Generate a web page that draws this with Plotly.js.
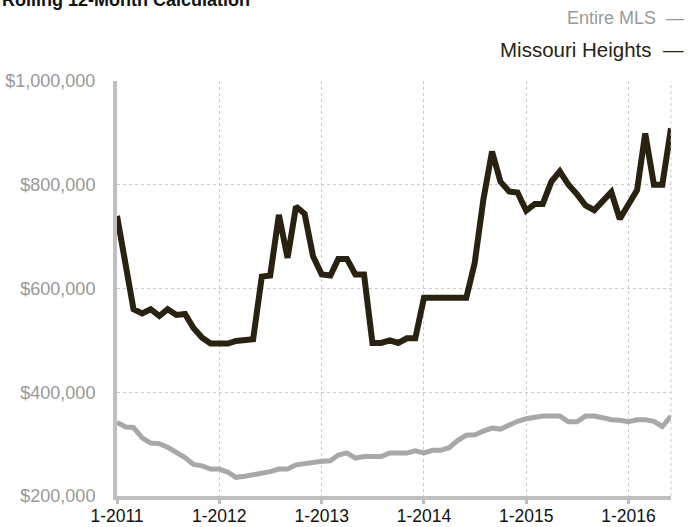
<!DOCTYPE html>
<html>
<head>
<meta charset="utf-8">
<script src="https://cdn.plot.ly/plotly-3.0.1.min.js"></script>
<style>html,body{margin:0;padding:0;background:#fff;}#chart{width:688px;height:527px;}</style>
</head>
<body>
<div id="chart"></div>
<script>
// Months: Jan 2011 .. Jun 2016
var months = [];
for (var y = 2011; y <= 2016; y++) {
  for (var m = 1; m <= 12; m++) {
    if (y === 2016 && m > 6) break;
    months.push(y + '-' + (m < 10 ? '0' + m : m) + '-01');
  }
}

var missouriHeights = [740000, 650000, 560000, 552000, 560000, 547000, 560000, 549000, 551000, 524000, 505000, 494000,
  494000, 494000, 499000, 502000, 502000, 623000, 625000, 742000, 659000, 758000, 744000, 662000,
  627000, 625000, 657000, 657000, 627000, 627000, 495000, 495000, 500000, 495000, 504000, 504000,
  582000, 582000, 582000, 582000, 582000, 582000, 649000, 771000, 864000, 806000, 787000, 785000,
  750000, 763000, 763000, 806000, 826000, 800000, 782000, 760000, 751000, 768000, 786000, 734000,
  765000, 790000, 899000, 800000, 800000, 909000];

var entireMLS = [342000, 333000, 332000, 312000, 302000, 301000, 294000, 285000, 274000, 261000, 258000, 252000,
  252000, 246000, 236000, 238000, 241000, 242000, 247000, 252000, 252000, 260000, 263000, 266000,
  267000, 268000, 279000, 283000, 273000, 276000, 276000, 276000, 283000, 283000, 283000, 287000,
  283000, 288000, 288000, 293000, 307000, 317000, 318000, 325000, 331000, 329000, 338000, 344000,
  349000, 352000, 354000, 354000, 354000, 343000, 343000, 354000, 354000, 351000, 347000, 346000,
  343000, 347000, 347000, 344000, 334000, 354000];

var xTickVals = ['2011-01-01', '2012-01-01', '2013-01-01', '2014-01-01', '2015-01-01', '2016-01-01'];
var xTickText = ['1-2011', '1-2012', '1-2013', '1-2014', '1-2015', '1-2016'];
var yTickVals = [200000, 400000, 600000, 800000, 1000000];
var yTickText = ['$200,000', '$400,000', '$600,000', '$800,000', '$1,000,000'];

var seriesNames = ['Entire MLS', 'Missouri Heights'];
var titleText = 'Rolling 12-Month Calculation';

var font = 'Liberation Sans, Arial, Helvetica, sans-serif';

var traces = [
  { x: months, y: entireMLS, type: 'scatter', mode: 'lines', name: seriesNames[0],
    line: { color: '#a8a8a8', width: 5 }, hoverinfo: 'skip' },
  { x: months, y: missouriHeights, type: 'scatter', mode: 'lines', name: seriesNames[1],
    line: { color: '#2a2210', width: 6 }, hoverinfo: 'skip' }
];

var layout = {
  width: 688, height: 527,
  margin: { l: 117, r: 17, t: 81, b: 31 },
  paper_bgcolor: '#ffffff', plot_bgcolor: '#ffffff',
  showlegend: false,
  font: { family: font },
  xaxis: {
    type: 'date',
    range: ['2011-01-01', '2016-06-01'],
    tickvals: xTickVals, ticktext: xTickText,
    tickfont: { size: 17.5, color: '#111111', family: font },
    showgrid: true, gridcolor: '#cccccc', griddash: 'dot', gridwidth: 1,
    showline: true, linecolor: '#bfbfbf', linewidth: 4,
    ticks: 'outside', ticklen: 4, tickwidth: 3, tickcolor: '#bfbfbf',
    ticklabelstandoff: -3,
    zeroline: false, fixedrange: true
  },
  yaxis: {
    range: [200000, 1000000],
    tickvals: yTickVals, ticktext: yTickText,
    tickfont: { size: 18, color: '#999999', family: font },
    showgrid: true, gridcolor: '#cccccc', griddash: 'dot', gridwidth: 1,
    showline: true, linecolor: '#bfbfbf', linewidth: 4,
    ticks: '', ticklabelstandoff: 14,
    zeroline: false, fixedrange: true
  },
  shapes: [
    { type: 'line', xref: 'paper', yref: 'paper', x0: 1, x1: 1, y0: 0, y1: 1,
      line: { color: '#cccccc', width: 1, dash: 'dot' } }
  ],
  annotations: [
    { text: '<b>' + titleText + '</b>', xref: 'paper', yref: 'paper', x: -0.211, y: 1.195,
      xanchor: 'left', yanchor: 'middle', showarrow: false,
      font: { size: 18, color: '#111111', family: font } },
    { text: seriesNames[0] + '  —', xref: 'paper', yref: 'paper', x: 1.027, y: 1.153,
      xanchor: 'right', yanchor: 'middle', showarrow: false,
      font: { size: 18, color: '#9a9a9a', family: font } },
    { text: seriesNames[1] + '  —', xref: 'paper', yref: 'paper', x: 1.027, y: 1.075,
      xanchor: 'right', yanchor: 'middle', showarrow: false,
      font: { size: 20.5, color: '#2a2210', family: font } }
  ]
};

Plotly.newPlot('chart', traces, layout, { displayModeBar: false, staticPlot: true });
</script>
</body>
</html>
